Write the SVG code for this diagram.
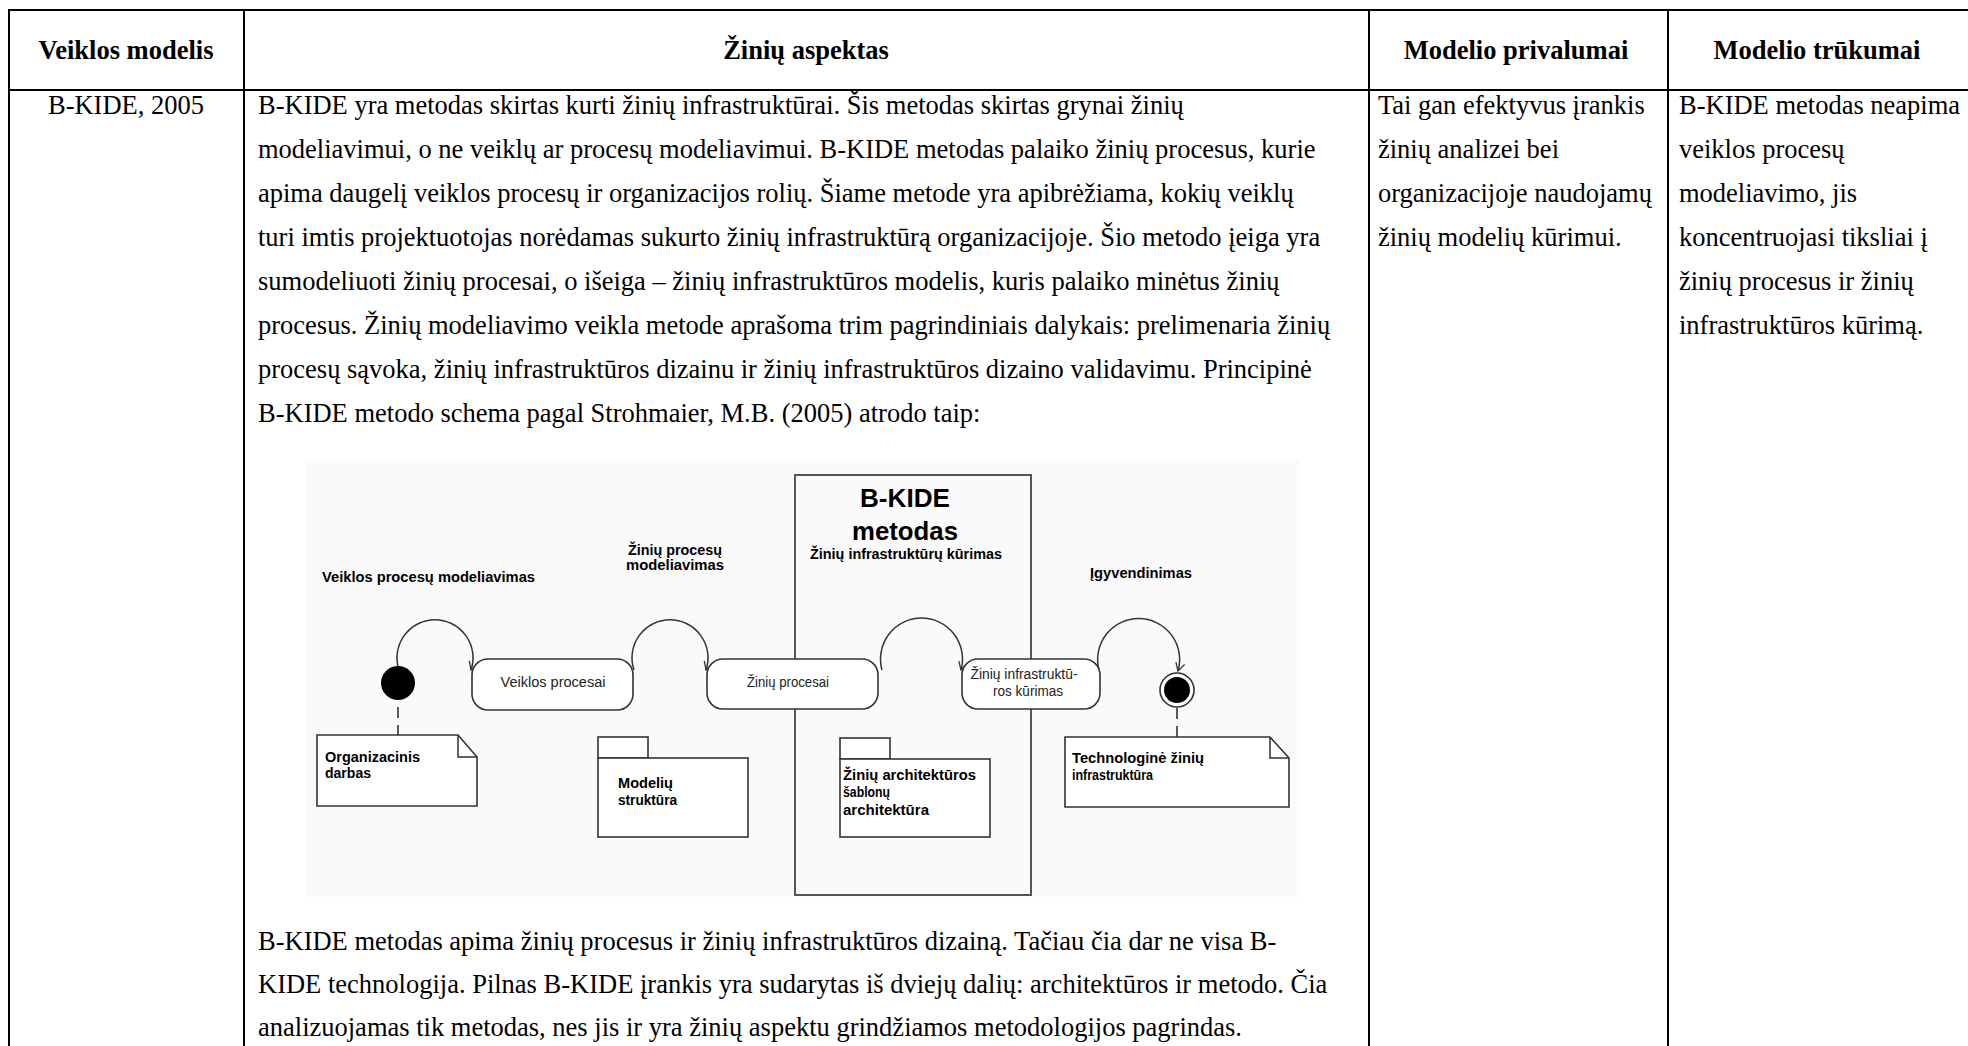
<svg xmlns="http://www.w3.org/2000/svg" width="1968" height="1046" viewBox="0 0 1968 1046">
  <defs>
    <style>
      .grid { stroke: #000; stroke-width: 2; fill: none; }
      .hd { font-family: "Liberation Serif", "Times New Roman", serif; font-size: 26.5px; font-weight: bold; fill: #000; }
      .tx { font-family: "Liberation Serif", "Times New Roman", serif; font-size: 26.5px; fill: #000; }
      .fig { fill: #fafafa; }
      .lbl { font-family: "Liberation Sans", Arial, sans-serif; font-size: 14px; font-weight: bold; fill: #000; }
      .big { font-family: "Liberation Sans", Arial, sans-serif; font-size: 26px; font-weight: bold; fill: #000; }
      .act { font-family: "Liberation Sans", Arial, sans-serif; font-size: 14px; fill: #222; }
      .shape { fill: #fff; stroke: #333; stroke-width: 1.6; }
      .frame { fill: none; stroke: #555; stroke-width: 2; }
      .flow { fill: none; stroke: #333; stroke-width: 1.5; }
      .dash { fill: none; stroke: #333; stroke-width: 1.6; stroke-dasharray: 11 7; }
    </style>
    <marker id="open" markerWidth="12" markerHeight="12" refX="10" refY="6" orient="auto" markerUnits="userSpaceOnUse">
      <path d="M2,1.5 L10,6 L2,10.5" fill="none" stroke="#333" stroke-width="1.3"/>
    </marker>
  </defs>

  <rect width="1968" height="1046" fill="#fff"/>

  <!-- table rules -->
  <g id="table">
    <line class="grid" x1="9" y1="10" x2="1968" y2="10"/>
    <line class="grid" x1="9" y1="90" x2="1968" y2="90"/>
    <line class="grid" x1="9" y1="9" x2="9" y2="1046"/>
    <line class="grid" x1="244" y1="9" x2="244" y2="1046"/>
    <line class="grid" x1="1369" y1="9" x2="1369" y2="1046"/>
    <line class="grid" x1="1668" y1="9" x2="1668" y2="1046"/>
  </g>

  <!-- header row -->
  <g id="header">
    <text class="hd" x="126" y="59" text-anchor="middle">Veiklos modelis</text>
    <text class="hd" x="806" y="59" text-anchor="middle">Žinių aspektas</text>
    <text class="hd" x="1516" y="59" text-anchor="middle">Modelio privalumai</text>
    <text class="hd" x="1817" y="59" text-anchor="middle">Modelio trūkumai</text>
  </g>

  <g id="col-model">
    <text class="tx" x="126" y="114" text-anchor="middle">B-KIDE, 2005</text>
  </g>

  <g id="col-aspect">
    <text class="tx" x="258" y="114">B-KIDE yra metodas skirtas kurti žinių infrastruktūrai. Šis metodas skirtas grynai žinių</text>
    <text class="tx" x="258" y="158">modeliavimui, o ne veiklų ar procesų modeliavimui. B-KIDE metodas palaiko žinių procesus, kurie</text>
    <text class="tx" x="258" y="202">apima daugelį veiklos procesų ir organizacijos rolių. Šiame metode yra apibrėžiama, kokių veiklų</text>
    <text class="tx" x="258" y="246">turi imtis projektuotojas norėdamas sukurto žinių infrastruktūrą organizacijoje. Šio metodo įeiga yra</text>
    <text class="tx" x="258" y="290">sumodeliuoti žinių procesai, o išeiga – žinių infrastruktūros modelis, kuris palaiko minėtus žinių</text>
    <text class="tx" x="258" y="334">procesus. Žinių modeliavimo veikla metode aprašoma trim pagrindiniais dalykais: prelimenaria žinių</text>
    <text class="tx" x="258" y="378">procesų sąvoka, žinių infrastruktūros dizainu ir žinių infrastruktūros dizaino validavimu. Principinė</text>
    <text class="tx" x="258" y="422">B-KIDE metodo schema pagal Strohmaier, M.B. (2005) atrodo taip:</text>

    <text class="tx" x="258" y="950">B-KIDE metodas apima žinių procesus ir žinių infrastruktūros dizainą. Tačiau čia dar ne visa B-</text>
    <text class="tx" x="258" y="993">KIDE technologija. Pilnas B-KIDE įrankis yra sudarytas iš dviejų dalių: architektūros ir metodo. Čia</text>
    <text class="tx" x="258" y="1036">analizuojamas tik metodas, nes jis ir yra žinių aspektu grindžiamos metodologijos pagrindas.</text>
  </g>

  <g id="col-pros">
    <text class="tx" x="1378" y="114">Tai gan efektyvus įrankis</text>
    <text class="tx" x="1378" y="158">žinių analizei bei</text>
    <text class="tx" x="1378" y="202">organizacijoje naudojamų</text>
    <text class="tx" x="1378" y="246">žinių modelių kūrimui.</text>
  </g>

  <g id="col-cons">
    <text class="tx" x="1679" y="114">B-KIDE metodas neapima</text>
    <text class="tx" x="1679" y="158">veiklos procesų</text>
    <text class="tx" x="1679" y="202">modeliavimo, jis</text>
    <text class="tx" x="1679" y="246">koncentruojasi tiksliai į</text>
    <text class="tx" x="1679" y="290">žinių procesus ir žinių</text>
    <text class="tx" x="1679" y="334">infrastruktūros kūrimą.</text>
  </g>

  <!-- B-KIDE method schema -->
  <rect class="fig" x="305" y="461" width="995" height="436"/>

  <g id="phase-labels">
    <text class="lbl" x="322" y="582" textLength="213" lengthAdjust="spacingAndGlyphs">Veiklos procesų modeliavimas</text>
    <text class="lbl" x="675" y="555" text-anchor="middle" textLength="94" lengthAdjust="spacingAndGlyphs">Žinių procesų</text>
    <text class="lbl" x="675" y="570" text-anchor="middle" textLength="98" lengthAdjust="spacingAndGlyphs">modeliavimas</text>
    <text class="lbl" x="1090" y="578" textLength="102" lengthAdjust="spacingAndGlyphs">Įgyvendinimas</text>
  </g>

  <g id="method-frame">
    <rect class="frame" x="795" y="475" width="236" height="420"/>
    <text class="big" x="905" y="507" text-anchor="middle" textLength="90" lengthAdjust="spacingAndGlyphs">B-KIDE</text>
    <text class="big" x="905" y="540" text-anchor="middle" textLength="106" lengthAdjust="spacingAndGlyphs">metodas</text>
    <text class="lbl" x="906" y="559" text-anchor="middle" textLength="192" lengthAdjust="spacingAndGlyphs">Žinių infrastruktūrų kūrimas</text>
  </g>

  <g id="connectors">
    <path class="flow" d="M399,670 A38,38 0 1 1 471,670" marker-end="url(#open)"/>
    <path class="flow" d="M634,670 A38,38 0 1 1 706,670" marker-end="url(#open)"/>
    <path class="flow" d="M882,670 A41,41 0 1 1 961,670" marker-end="url(#open)"/>
    <path class="flow" d="M1099,670 A41,41 0 1 1 1178,671" marker-end="url(#open)"/>
    <line class="dash" x1="398" y1="707" x2="398" y2="735"/>
    <line class="dash" x1="1177" y1="708" x2="1177" y2="737"/>
  </g>

  <g id="start">
    <circle cx="398" cy="683" r="17" fill="#000"/>
  </g>

  <g id="act-business">
    <rect class="shape" x="472" y="659" width="161" height="51" rx="16"/>
    <text class="act" x="553" y="687" text-anchor="middle" textLength="105" lengthAdjust="spacingAndGlyphs">Veiklos procesai</text>
  </g>

  <g id="act-knowledge">
    <rect class="shape" x="707" y="659" width="171" height="50" rx="16"/>
    <text class="act" x="788" y="687" text-anchor="middle" textLength="82" lengthAdjust="spacingAndGlyphs">Žinių procesai</text>
  </g>

  <g id="act-infra">
    <rect class="shape" x="962" y="659" width="138" height="50" rx="16"/>
    <text class="act" x="1024" y="679" text-anchor="middle" textLength="107" lengthAdjust="spacingAndGlyphs">Žinių infrastruktū-</text>
    <text class="act" x="1028" y="696" text-anchor="middle" textLength="70" lengthAdjust="spacingAndGlyphs">ros kūrimas</text>
  </g>

  <g id="end">
    <circle cx="1177" cy="690" r="17" fill="#fff" stroke="#333" stroke-width="1.6"/>
    <circle cx="1177" cy="690" r="13" fill="#000"/>
  </g>

  <g id="note-org">
    <path class="shape" d="M317,735 H458 L477,757 V806 H317 Z"/>
    <path class="flow" d="M458,735 V757 H477"/>
    <text class="lbl" x="325" y="762" textLength="95" lengthAdjust="spacingAndGlyphs">Organizacinis</text>
    <text class="lbl" x="325" y="778" textLength="46" lengthAdjust="spacingAndGlyphs">darbas</text>
  </g>

  <g id="pkg-models">
    <rect class="shape" x="598" y="737" width="50" height="21"/>
    <rect class="shape" x="598" y="758" width="150" height="79"/>
    <text class="lbl" x="618" y="788" textLength="55" lengthAdjust="spacingAndGlyphs">Modelių</text>
    <text class="lbl" x="618" y="805" textLength="59" lengthAdjust="spacingAndGlyphs">struktūra</text>
  </g>

  <g id="pkg-arch">
    <rect class="shape" x="840" y="738" width="50" height="21"/>
    <rect class="shape" x="840" y="759" width="150" height="78"/>
    <text class="lbl" x="843" y="780" textLength="133" lengthAdjust="spacingAndGlyphs">Žinių architektūros</text>
    <text class="lbl" x="843" y="797" textLength="47" lengthAdjust="spacingAndGlyphs">šablonų</text>
    <text class="lbl" x="843" y="815" textLength="86" lengthAdjust="spacingAndGlyphs">architektūra</text>
  </g>

  <g id="note-tech">
    <path class="shape" d="M1065,737 H1270 L1289,758 V807 H1065 Z"/>
    <path class="flow" d="M1270,737 V758 H1289"/>
    <text class="lbl" x="1072" y="763" textLength="132" lengthAdjust="spacingAndGlyphs">Technologinė žinių</text>
    <text class="lbl" x="1072" y="780" textLength="81" lengthAdjust="spacingAndGlyphs">infrastruktūra</text>
  </g>
</svg>
